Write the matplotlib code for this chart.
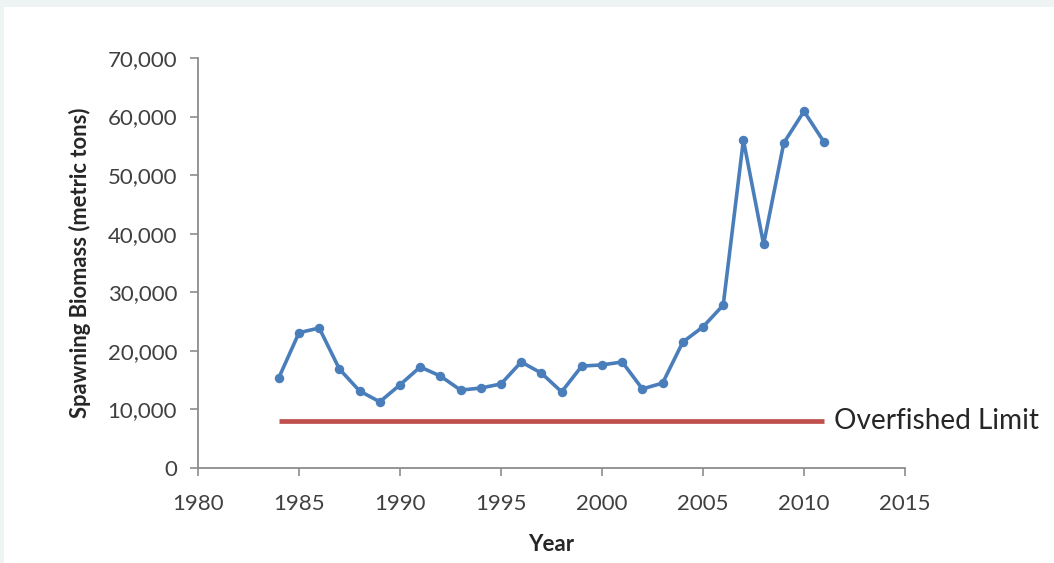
import matplotlib
matplotlib.use("Agg")
import matplotlib.pyplot as plt
from matplotlib.ticker import FuncFormatter, MultipleLocator

# Spawning biomass by year (metric tons)
years = list(range(1984, 2012))
biomass = [15400, 23100, 23900, 16900, 13150, 11300, 14200, 17250,
           15700, 13300, 13650, 14350, 18100, 16200, 13000, 17400,
           17600, 18100, 13500, 14500, 21500, 24100, 27800, 56000,
           38200, 55500, 60900, 55600]

# Overfished reference level
limit_value = 8000
limit_years = [1984, 2011]
limit_label = "Overfished Limit"

x_label = "Year"
y_label = "Spawning Biomass (metric tons)"

plt.rcParams["font.family"] = ["Lato", "DejaVu Sans"]

W, H = 1054, 563
fig = plt.figure(figsize=(W / 100, H / 100), dpi=100)
fig.patch.set_facecolor("white")

# thin tinted frame along the top and left edges
fig.patches.append(plt.Rectangle((0, 1 - 7 / H), 1, 7 / H, transform=fig.transFigure,
                                 facecolor="#eef3f4", edgecolor="none", zorder=0))
fig.patches.append(plt.Rectangle((0, 0), 4 / W, 1, transform=fig.transFigure,
                                 facecolor="#eef3f4", edgecolor="none", zorder=0))

ax = fig.add_axes([198 / W, 1 - 468 / H, (905 - 198) / W, (468 - 58) / H])
ax.set_facecolor("none")

ax.plot(years, biomass, color="#4a7ebb", linewidth=2.6, marker="o",
        markersize=5.8, markerfacecolor="#4a7ebb", markeredgecolor="#4a7ebb",
        zorder=3, clip_on=False)
ax.plot(limit_years, [limit_value, limit_value], color="#c0504d",
        linewidth=3.4, solid_capstyle="butt", zorder=2)
ax.text(limit_years[-1] + 0.5, limit_value, limit_label, fontsize=20.2,
        color="#262626", va="center", ha="left")

ax.set_xlim(1980, 2015)
ax.set_ylim(0, 70000)
ax.xaxis.set_major_locator(MultipleLocator(5))
ax.yaxis.set_major_locator(MultipleLocator(10000))
ax.yaxis.set_major_formatter(FuncFormatter(lambda v, p: f"{int(v):,}"))

for side in ("top", "right"):
    ax.spines[side].set_visible(False)
for side in ("left", "bottom"):
    ax.spines[side].set_color("#8c8c8c")
    ax.spines[side].set_linewidth(1.3)

ax.tick_params(axis="both", colors="#8c8c8c", length=6, width=1.2,
               labelsize=16, labelcolor="#404040")
ax.tick_params(axis="y", pad=9)
ax.tick_params(axis="x", pad=13)

ax.set_xlabel(x_label, fontsize=16, fontweight="bold", color="#262626", labelpad=14)
ax.set_ylabel(y_label, fontsize=15.8, fontweight="bold", color="#262626", labelpad=12)

fig.savefig("out.png", dpi=100, facecolor=fig.get_facecolor())
